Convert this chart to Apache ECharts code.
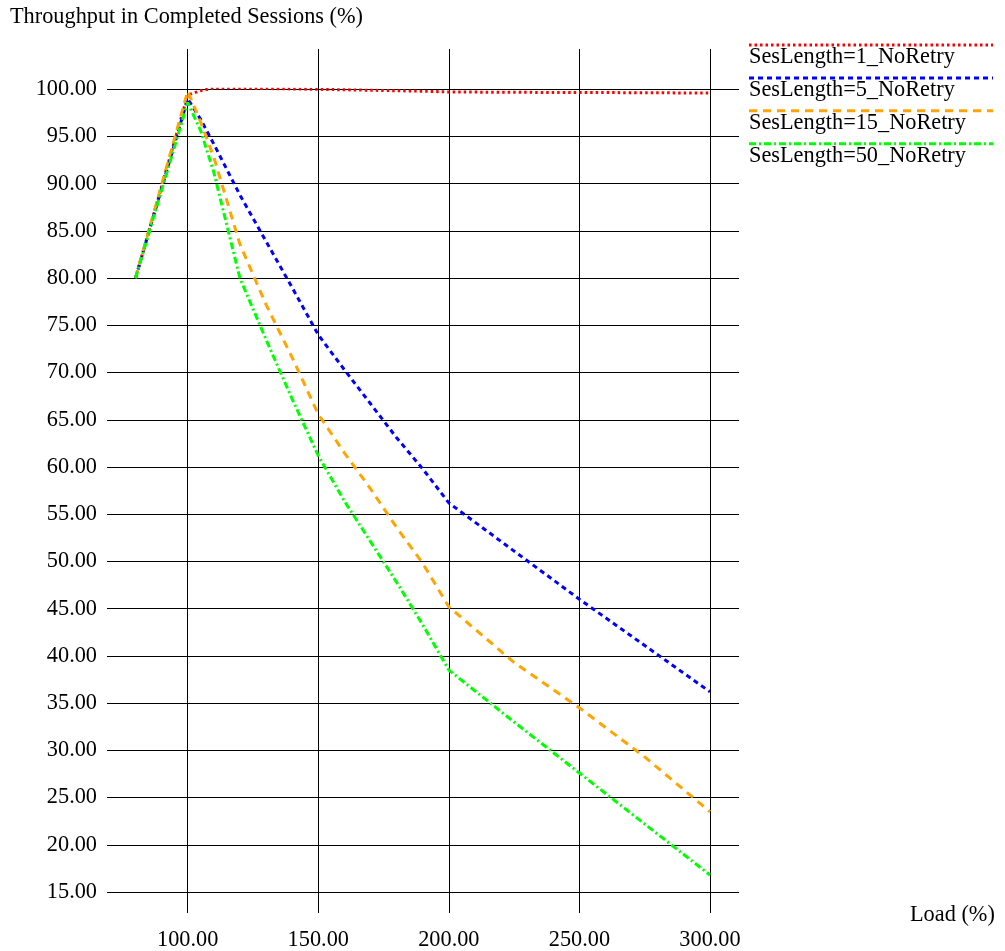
<!DOCTYPE html>
<html><head><meta charset="utf-8">
<script src="https://cdn.jsdelivr.net/npm/echarts@6/dist/echarts.min.js"></script>
<style>html,body{margin:0;padding:0;background:#fff}#c{width:1005px;height:951px}</style>
</head><body><div id="c"></div>
<script>
// ---- data ----
const loads      = [80, 100, 105, 110, 120, 130, 140, 150, 160, 170, 180, 190, 200, 225, 250, 275, 300];
const ses1Vals   = [80, 99.4, 99.85, 100.15, 100.12, 100.08, 100.04, 100.0, 99.95, 99.9, 99.85, 99.8, 99.72, 99.68, 99.66, 99.64, 99.6];
const ses5Vals   = [80, 99.0, 96.8, 94.2, 88.8, 83.9, 79.0, 74.0, 70.3, 66.7, 63.1, 59.8, 56.2, 51.1, 46.0, 41.1, 36.2];
const ses15Vals  = [80, 99.8, 96.5, 92.8, 83.6, 77.2, 71.6, 65.6, 61.5, 57.7, 53.6, 49.8, 45.2, 39.3, 34.5, 29.3, 23.5];
const ses50Vals  = [80, 98.6, 95.6, 91.2, 80.0, 73.5, 67.2, 61.2, 56.4, 52.1, 47.8, 43.3, 38.5, 33.0, 27.6, 22.2, 16.8];
const seriesNames = ['SesLength=1_NoRetry', 'SesLength=5_NoRetry', 'SesLength=15_NoRetry', 'SesLength=50_NoRetry'];
const xTickLabels = [100, 150, 200, 250, 300];
const yAxisTitle = 'Throughput in Completed Sessions (%)';
const xAxisTitle = 'Load (%)';

// ---- styling ----
const FONT = 'Liberation Serif';
const FS = 22.3;
const colors = ['#ff0000', '#0000ff', '#ffa500', '#00ff00'];
const dashes = [[2.5, 3], [5, 4], [8, 6], [7, 3, 2, 3]];
const allVals = [ses1Vals, ses5Vals, ses15Vals, ses50Vals];

const chart = echarts.init(document.getElementById('c'), null, {renderer: 'canvas'});

const series = allVals.map((vals, k) => ({
  name: seriesNames[k],
  type: 'line',
  xAxisIndex: 0, yAxisIndex: 0,
  showSymbol: false, symbol: 'none',
  smooth: false,
  animation: false,
  lineStyle: {color: colors[k], width: 3, type: dashes[k]},
  itemStyle: {color: colors[k]},
  data: loads.map((x, i) => [x, vals[i]]),
  z: 3 + k
}));

// legend drawn as graphic: line above, text below
const legendGraphics = [];
seriesNames.forEach((n, k) => {
  const yLine = 45 + k * 32.9;
  legendGraphics.push({
    type: 'line', silent: true,
    shape: {x1: 749, y1: yLine, x2: 993, y2: yLine},
    style: {stroke: colors[k], lineWidth: 3, lineDash: dashes[k]}
  });
  legendGraphics.push({
    type: 'text', silent: true, x: 749, y: yLine + 12.5,
    style: {text: n, font: FS + 'px "' + FONT + '"', fill: '#000', textVerticalAlign: 'middle', textAlign: 'left'}
  });
});
legendGraphics.push({
  type: 'text', silent: true, x: 910, y: 915,
  style: {text: xAxisTitle, font: FS + 'px "' + FONT + '"', fill: '#000', textVerticalAlign: 'middle', textAlign: 'left'}
});

const option = {
  animation: false,
  backgroundColor: '#fff',
  textStyle: {fontFamily: FONT},
  title: {
    text: yAxisTitle, left: 10, top: 6, padding: 0,
    textStyle: {fontFamily: FONT, fontSize: FS, fontWeight: 'normal', color: '#000'}
  },
  grid: [
    {left: 107, right: 266, top: 89.3, bottom: 59, containLabel: false},
    {left: 187.7, right: 295, top: 49, bottom: 38, containLabel: false}
  ],
  xAxis: [
    {gridIndex: 0, type: 'value', min: 69.1, max: 311.1, show: false, splitLine: {show: false}},
    {gridIndex: 1, type: 'value', min: 100, max: 300, interval: 50,
      axisLine: {show: false}, axisTick: {show: false},
      axisLabel: {margin: 16, color: '#000', fontFamily: FONT, fontSize: FS,
        formatter: v => (xTickLabels.indexOf(v) >= 0 ? v.toFixed(2) : '')},
      splitLine: {show: true, lineStyle: {color: '#000', width: 1}}}
  ],
  yAxis: [
    {gridIndex: 0, type: 'value', min: 15, max: 100, interval: 5,
      axisLine: {show: false}, axisTick: {show: false},
      axisLabel: {margin: 10, color: '#000', fontFamily: FONT, fontSize: FS, formatter: v => v.toFixed(2)},
      splitLine: {show: true, lineStyle: {color: '#000', width: 1}}},
    {gridIndex: 1, type: 'value', min: 0, max: 1, show: false, splitLine: {show: false}}
  ],
  graphic: legendGraphics,
  series: series
};
chart.setOption(option);
</script>
</body></html>
